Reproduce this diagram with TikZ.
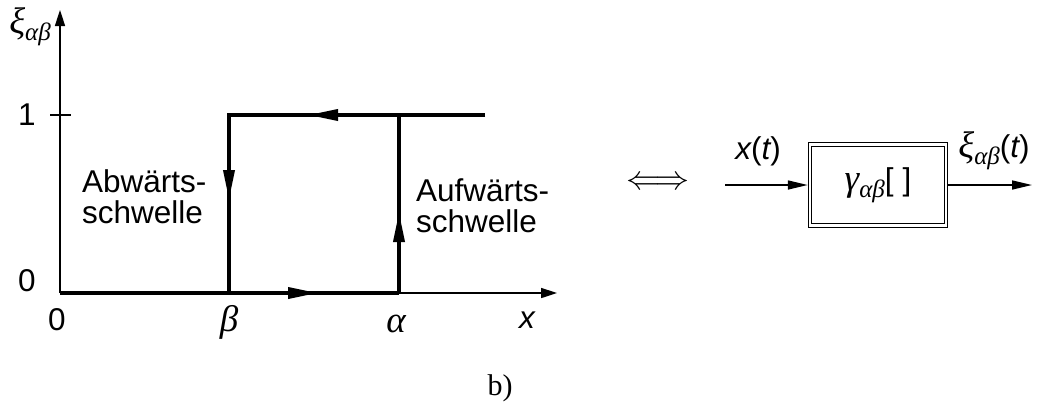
\documentclass[tikz,border=0pt]{standalone}
\usepackage{fix-cm}
\usepackage{fontspec}
\setmainfont{Liberation Sans}
\newfontfamily\tnr{Liberation Serif}
\usetikzlibrary{arrows.meta}
\newcommand\gk[1]{{\tnr\itshape\fontsize{37}{37}\selectfont #1}}
\newcommand\sbs[1]{\raisebox{-0.22em}{\fontsize{25}{25}\selectfont\tnr\itshape #1}}
\tikzset{
  axisline/.style={line width=1.6pt, -{Triangle[length=16pt,width=10pt]}},
  hyst/.style={line width=3.6pt},
  harrow/.style={line width=3.6pt, -{Triangle[length=30pt,width=11pt]}},
  sig/.style={line width=1.6pt, -{Triangle[length=20pt,width=9pt]}},
  lbl/.style={font=\fontsize{31.5}{31.5}\selectfont, inner sep=0pt},
  txt/.style={font=\fontsize{31.5}{31.5}\selectfont, inner sep=0pt, align=left, anchor=north west},
  blk/.style={draw, line width=1pt, double, double distance=2.5pt, minimum width=136pt, minimum height=81pt, outer sep=2.25pt, inner sep=0pt, font=\fontsize{31.5}{31.5}\selectfont},
}
\begin{document}
\begin{tikzpicture}[x=1pt,y=-1pt]
\useasboundingbox (0,0) rectangle (1040,408);
% coordinates
\coordinate (O) at (60,293);
\coordinate (Xt) at (557,293);
\coordinate (Yt) at (60,10);
\coordinate (T1) at (50,115);
\coordinate (T2) at (71,115);
\coordinate (B0) at (229,293);
\coordinate (B1) at (229,115);
\coordinate (A0) at (399,293);
\coordinate (A1) at (399,115);
\coordinate (E) at (485,115);
\coordinate (mB) at (318,293);
\coordinate (mT) at (308,115);
\coordinate (mD) at (229,200);
\coordinate (mU) at (399,212);
% axes
\draw[axisline] (O) -- (Xt);
\draw[axisline] (O) -- (Yt);
\draw[line width=1.6pt] (T1) -- (T2);
% hysteresis loop
\draw[hyst, line join=miter] (O) -- (A0);
\draw[hyst, line join=miter] (E) -- (B1) -- (B0);
\draw[hyst] (A0) -- (A1);
\draw[harrow] (O) -- (mB);
\draw[harrow] (E) -- (mT);
\draw[harrow] (B1) -- (mD);
\draw[harrow] (A0) -- (mU);
% axis labels
\node[lbl] (ylab) at (30,27) {\gk{ξ}\sbs{αβ}};
\node[lbl] (one) at (27,115) {1};
\node[lbl] (zeroy) at (27,281) {0};
\node[lbl] (zerox) at (57,320) {0};
\node[lbl] (beta) at (229,322) {\gk{β}};
\node[lbl] (alpha) at (396,324) {\gk{α}};
\node[lbl] (xlab) at (527,320) {\itshape x};
\node[txt] (ab) at (82,169) {Abwärts-\\[0pt]schwelle};
\node[txt] (auf) at (416,178) {Aufwärts-\\[0pt]schwelle};
% equivalence
\node[inner sep=0pt, font=\fontsize{34}{34}\selectfont] (eq) at (658,183) {$\Longleftrightarrow$};
% block
\coordinate (in) at (725,185);
\coordinate (out) at (1032,185);
\node[blk] (g) at (878,185) {\gk{γ}\sbs{αβ}[\hspace{9pt}]};
\draw[sig] (in) -- (g.west);
\draw[sig] (g.east) -- (out);
\node[lbl] (xt) at (758,151) {{\itshape x}({\itshape t})};
\node[lbl] (xit) at (994,151) {\gk{ξ}\sbs{αβ}({\itshape t})};
% caption
\node[inner sep=0pt, font=\tnr\fontsize{30}{30}\selectfont] (cap) at (500,388) {b)};
\end{tikzpicture}
\end{document}
